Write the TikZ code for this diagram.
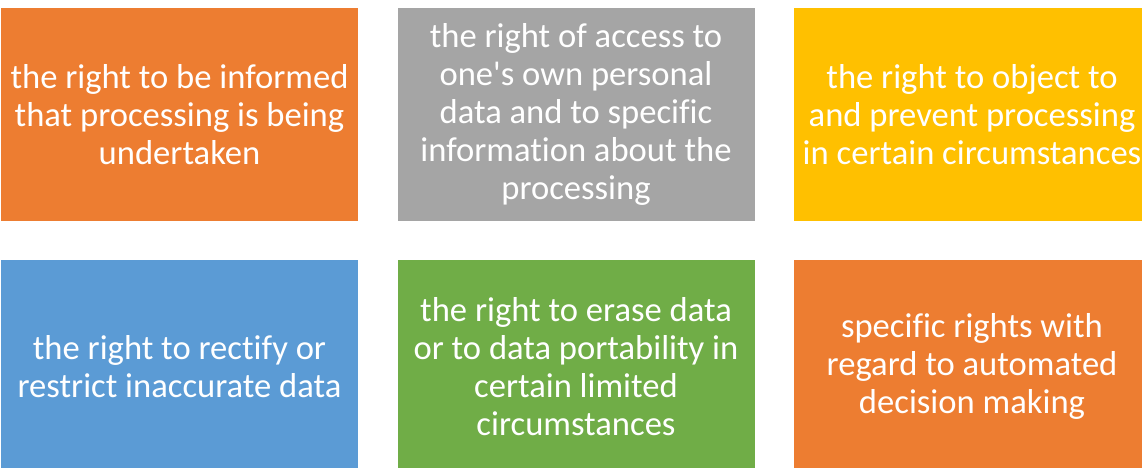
\documentclass[tikz,border=0pt]{standalone}
\usepackage{fontspec}
\setmainfont{Carlito}[Ligatures={TeXOff,NoCommon}]
\definecolor{cOrange}{HTML}{ED7D31}
\definecolor{cGray}{HTML}{A5A5A5}
\definecolor{cGold}{HTML}{FFC000}
\definecolor{cBlue}{HTML}{5B9BD5}
\definecolor{cGreen}{HTML}{70AD47}
\begin{document}
\begin{tikzpicture}[x=1pt,y=-1pt,
  rightbox/.style={draw=none, minimum width=357pt, minimum height=213pt,
    inner sep=0pt, align=center, text=white,
    font=\fontsize{34.6}{38}\selectfont}]
\useasboundingbox (0,0) rectangle (1142,468);
\begin{scope}
\clip (0,0) rectangle (1142,468);
\node[rightbox, fill=cOrange] (informed) at (179.5,114.5)
  {the right to be informed\\that processing is being\\undertaken};
\node[rightbox, fill=cGray] (access) at (576,114.5)
  {the right of access to\\one's own personal\\data and to specific\\information about the\\processing};
\node[rightbox, fill=cGold] (object) at (972,114.5)
  {the right to object to\\and prevent processing\\in certain circumstances};
\node[rightbox, fill=cBlue] (rectify) at (179.5,366.5)
  {the right to rectify or\\restrict inaccurate data};
\node[rightbox, fill=cGreen] (erase) at (576,366.5)
  {the right to erase data\\or to data portability in\\certain limited\\circumstances};
\node[rightbox, fill=cOrange] (automated) at (972,366.5)
  {specific rights with\\regard to automated\\decision making};
\end{scope}
\end{tikzpicture}
\end{document}
